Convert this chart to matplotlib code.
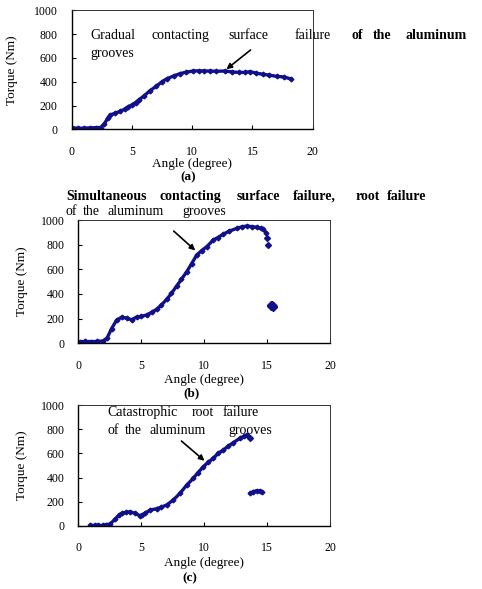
import matplotlib.pyplot as plt

W, H = 482, 589
SERIF = 'Liberation Serif'
NAVY = '#10108a'

# (a) gradual failure
a_angle = [0.0, 0.5, 1.0, 1.5, 2.0, 2.4, 2.7, 3.0, 3.2, 3.6, 4.0, 4.4, 4.7, 5.0,
           5.3, 5.6, 6.0, 6.5, 7.0, 7.5, 7.9, 8.5, 9.0, 9.5, 10.1, 10.6, 11.0,
           11.5, 12.0, 12.7, 13.3, 13.9, 14.4, 14.8, 15.3, 15.9, 16.4, 17.0,
           17.6, 18.2]
a_torque = [15, 8, 10, 12, 14, 15, 45, 95, 120, 135, 150, 170, 190, 205,
            225, 250, 280, 325, 360, 400, 425, 450, 468, 480, 490, 492, 490,
            490, 487, 490, 482, 478, 478, 485, 472, 462, 455, 445,
            440, 423]

# (b) simultaneous failure
b_angle = [0.1, 0.5, 1.0, 1.5, 2.0, 2.3, 2.65, 3.05, 3.45, 3.85, 4.24, 4.64,
           5.0, 5.44, 5.85, 6.23, 6.6, 7.03, 7.4, 7.82, 8.2, 8.62, 9.0, 9.41,
           9.8, 10.21, 10.73, 11.1, 11.53, 12.0, 12.59, 13.0, 13.39, 13.8,
           14.18, 14.5, 14.71, 14.92]
b_torque = [13, 15, 14, 15, 19, 45, 120, 189, 211, 205, 190, 214,
            218, 230, 252, 276, 310, 357, 405, 465, 520, 581, 645, 716,
            752, 784, 838, 858, 886, 910, 932, 945, 951, 946,
            941, 933, 924, 897]
b_drop_angle = [15.0, 15.1]
b_drop_torque = [857, 797]
b_rest_angle = [15.3, 15.35, 15.4, 15.45, 15.5]
b_rest_torque = [300, 312, 308, 298, 305]

# (c) catastrophic root failure
c_angle = [0.93, 1.3, 1.6, 1.99, 2.2, 2.52, 2.92, 3.2, 3.45, 3.8, 4.11, 4.51,
           4.9, 5.1, 5.3, 5.7, 6.23, 6.6, 7.03, 7.55, 8.08, 8.62, 9.14, 9.5,
           9.94, 10.3, 10.73, 11.1, 11.53, 11.9, 12.32, 12.85, 13.2, 13.39, 13.5]
c_torque = [3, 3, 2, 3, 8, 14, 53, 85, 103, 112, 116, 103,
            83, 90, 103, 130, 141, 155, 172, 214, 269, 338, 394, 440,
            490, 525, 560, 600, 629, 660, 690, 727, 745, 754, 745]
c_drop_angle = [13.65]
c_drop_torque = [727]
c_rest_angle = [13.65, 13.9, 14.18, 14.4, 14.58]
c_rest_torque = [269, 283, 291, 288, 280]

x_ticks = [0, 5, 10, 15, 20]
y_ticks = [0, 200, 400, 600, 800, 1000]


def fx(px):
    return px / W


def fy(py):
    return 1 - py / H


def make_axes(fig, l, r, t, b):
    ax = fig.add_axes([fx(l), fy(b), (r - l) / W, (b - t) / H])
    ax.set_xlim(0, 20)
    ax.set_ylim(0, 1000)
    ax.set_xticks(x_ticks)
    ax.set_yticks(y_ticks)
    ax.tick_params(direction='in', length=3, width=0.8, labelsize=8.5)
    ax.tick_params(axis='x', pad=12)
    ax.tick_params(axis='y', pad=10)
    for lab in ax.get_xticklabels() + ax.get_yticklabels():
        lab.set_family(SERIF)
    for side in ['left', 'bottom']:
        ax.spines[side].set_linewidth(1.0)
    for side in ['top', 'right']:
        ax.spines[side].set_linewidth(0.7)
        ax.spines[side].set_color('#333333')
    ax.set_ylabel('Torque (Nm)', family=SERIF, fontsize=9.5)
    return ax


def words(fig, items, py, **kw):
    # py is the vertical centre of the line's capitals; draw on a common baseline
    for txt, px in items:
        fig.text(fx(px), fy(py + 4), txt, ha='left', va='baseline',
                 family=SERIF, fontsize=10, **kw)


def curve(ax, x, y):
    ax.plot(x, y, color=NAVY, lw=2.4, marker='D', ms=2.4,
            solid_capstyle='round')


def dots(ax, x, y, ms=3.0):
    ax.plot(x, y, ls='none', color=NAVY, marker='D', ms=ms)


fig = plt.figure(figsize=(W / 100, H / 100), dpi=100)

# ---- (a)
ax = make_axes(fig, 71.7, 312.7, 10.3, 129.3)
curve(ax, a_angle, a_torque)
ax.annotate('', xy=(12.66, 490), xytext=(15.02, 681),
            arrowprops=dict(arrowstyle='-|>', color='black', lw=1.2,
                            mutation_scale=8))
ax.yaxis.set_label_coords((18 - 71.7) / 241, 0.5)
ax.set_xlabel('Angle (degree)', family=SERIF, fontsize=9.5)
ax.xaxis.set_label_coords(0.5, (129.3 - 164) / 119)
ax.xaxis.label.set_va('center')
words(fig, [('Gradual', 90), ('contacting', 152), ('surface', 228),
            ('failure', 295)], 35)
words(fig, [('of', 352), ('the', 373), ('aluminum', 405)], 35,
      fontweight='bold')
words(fig, [('grooves', 90)], 53)
fig.text(fx(188), fy(177), '(a)', ha='center', va='center', family=SERIF,
         fontsize=9.5, fontweight='bold')

# ---- (b)
ax = make_axes(fig, 78.3, 330, 220, 343.3)
curve(ax, b_angle, b_torque)
dots(ax, b_drop_angle, b_drop_torque)
dots(ax, b_rest_angle, b_rest_torque, ms=4)
ax.annotate('', xy=(9.46, 738), xytext=(7.42, 925),
            arrowprops=dict(arrowstyle='-|>', color='black', lw=1.2,
                            mutation_scale=8))
ax.yaxis.set_label_coords((27.5 - 78.3) / 251.7, 0.5)
ax.set_xlabel('Angle (degree)', family=SERIF, fontsize=9.5)
ax.xaxis.set_label_coords(0.5, (343.3 - 380) / 123.3)
ax.xaxis.label.set_va('center')
words(fig, [('Simultaneous', 66), ('contacting', 159), ('surface', 237),
            ('failure,', 293), ('root', 356), ('failure', 387)], 196,
      fontweight='bold')
words(fig, [('of', 66), ('the', 83), ('aluminum', 107), ('grooves', 182)], 211)
fig.text(fx(191), fy(393), '(b)', ha='center', va='center', family=SERIF,
         fontsize=9.5, fontweight='bold')

# ---- (c)
ax = make_axes(fig, 78.3, 330, 405.3, 525.7)
curve(ax, c_angle, c_torque)
dots(ax, c_drop_angle, c_drop_torque)
curve(ax, c_rest_angle, c_rest_torque)
ax.annotate('', xy=(10.2, 524), xytext=(8.03, 718),
            arrowprops=dict(arrowstyle='-|>', color='black', lw=1.2,
                            mutation_scale=8))
ax.yaxis.set_label_coords((27.5 - 78.3) / 251.7, 0.5)
ax.set_xlabel('Angle (degree)', family=SERIF, fontsize=9.5)
ax.xaxis.set_label_coords(0.5, (525.7 - 563) / 120.4)
ax.xaxis.label.set_va('center')
words(fig, [('Catastrophic', 107), ('root', 192), ('failure', 223)], 412)
words(fig, [('of', 107), ('the', 125), ('aluminum', 150), ('grooves', 228)], 430)
fig.text(fx(190), fy(578), '(c)', ha='center', va='center', family=SERIF,
         fontsize=9.5, fontweight='bold')

fig.savefig('out.png', dpi=100)
